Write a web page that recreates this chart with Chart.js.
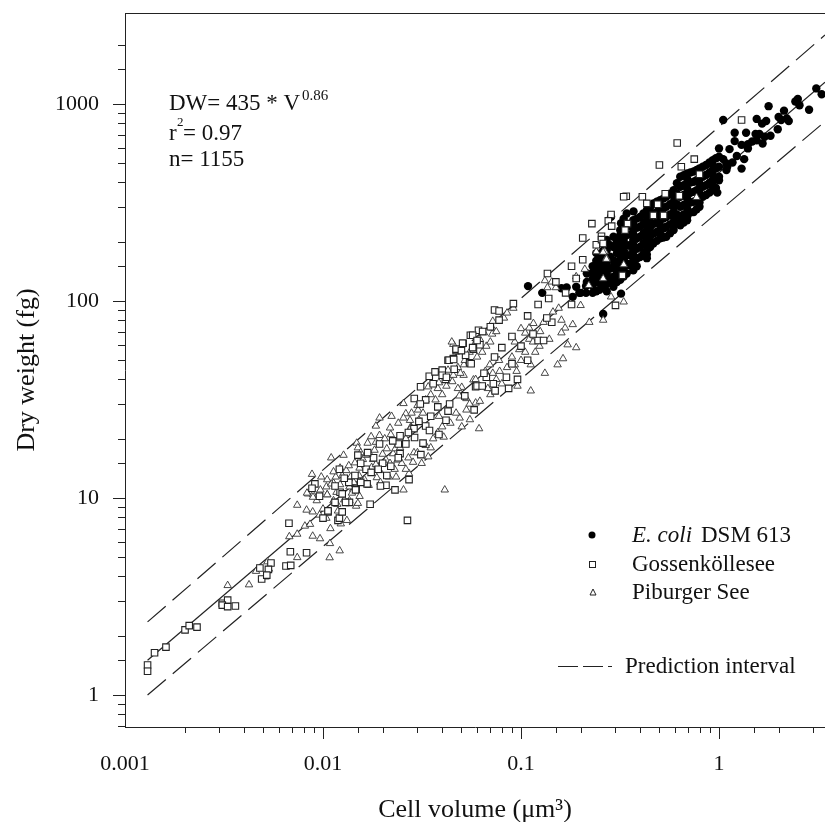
<!DOCTYPE html>
<html>
<head>
<meta charset="utf-8">
<title>Dry weight vs cell volume</title>
<script src="https://cdn.jsdelivr.net/npm/chart.js@4"></script>
<style>
    html, body { margin: 0; padding: 0; background: #fff; }
    canvas { display: block; }
</style>
</head>
<body>
<canvas id="scatterChart" width="825" height="822"></canvas>
<script>
// Axis tick labels
var xTickLabels = [0.001, 0.01, 0.1, 1];
var yTickLabels = [1, 10, 100, 1000];

// Regression line and prediction interval, [volume, dry weight]
var fitLine = [[0.0013, 1.5], [3.43, 1290]];
var upperLine = [[0.0013, 2.35], [3.43, 2240]];
var lowerLine = [[0.0013, 1.0], [3.43, 815]];

// E. coli DSM 613, [volume, dry weight]
var ecoliPoints = [
    [0.1085,119],[0.128,110],[0.16,116],[0.17,117],[0.19,118],[0.2,110],[0.1825,105],[0.32,109],[0.26,86],
    [0.37,285],[0.285,268],[0.32,248],[1.05,829],[1.78,975],[1.55,840],[1.73,820],[1.65,795],[2.5,1060],
    [2.55,985],[2.43,1030],[2.85,935],[3.1,1200],[3.3,1120],[2.13,925],[2.0,860],[2.06,830],[2.25,820],
    [2.2,845],[1.98,745],[1.82,690],[1.2,715],[1.37,715],[1.53,705],[1.6,705],[1.7,682],[1.2,648],[1.3,620],
    [1.4,595],[1.47,645],[1.55,655],[1.66,630],[1.4,625],[1.0,595],[1.13,590],[1.3,470],[1.23,545],[1.34,525],
    [1.17,505],[1.1,480],[1.05,525],[1.0,410],[0.98,355],[0.92,390],
    [0.197,110],[0.213,110],[0.213,119],[0.23,110],[0.23,119],[0.23,129],[0.23,139],[0.23,150],
    [0.249,114],[0.249,124],[0.249,134],[0.249,144],[0.249,156],[0.249,169],
    [0.25,167],[0.25,149],[0.271,204],[0.271,181],[0.271,155],[0.271,138],[0.271,122],[0.271,112],
    [0.293,212],[0.293,188],[0.293,161],[0.293,149],[0.293,133],[0.293,118],
    [0.317,229],[0.317,204],[0.317,181],[0.317,161],[0.317,143],[0.317,128],
    [0.342,278],[0.342,247],[0.342,216],[0.342,192],[0.342,171],[0.342,155],[0.342,138],
    [0.369,257],[0.369,233],[0.369,204],[0.369,181],[0.369,161],[0.369,143],
    [0.399,267],[0.399,238],[0.399,212],[0.399,188],[0.399,167],
    [0.432,289],[0.432,257],[0.432,229],[0.432,204],[0.432,181],[0.432,165],
    [0.466,313],[0.466,278],[0.466,247],[0.466,220],[0.466,196],
    [0.504,325],[0.504,289],[0.504,257],[0.504,229],[0.504,208],
    [0.542,338],[0.542,301],[0.542,267],[0.542,238],[0.542,212],
    [0.59,365],[0.59,319],[0.59,283],[0.59,252],[0.59,229],
    [0.637,427],[0.637,380],[0.637,338],[0.637,301],[0.637,267],[0.637,242],
    [0.69,444],[0.69,395],[0.69,351],[0.69,313],[0.69,278],[0.69,257],
    [0.745,454],[0.745,403],[0.745,358],[0.745,319],[0.745,283],
    [0.797,471],[0.797,419],[0.797,372],[0.797,331],[0.797,301],
    [0.86,490],[0.86,436],[0.86,387],[0.86,345],
    [0.93,519],[0.93,462],[0.93,411],[0.93,365],
    [1.0,540],[1.0,480],[1.0,427],[1.09,499],[1.09,462],
    [0.215,125],[0.215,138],[0.24,112],[0.24,125],[0.24,135],[0.24,147],[0.24,160],[0.24,175],
    [0.26,120],[0.26,130],[0.26,140],[0.26,150],[0.26,165],[0.26,180],[0.26,195],
    [0.282,192],[0.282,168],[0.282,146],[0.282,127],[0.305,200],[0.305,175],[0.305,155],[0.305,141],[0.305,125],
    [0.33,262],[0.33,232],[0.33,204],[0.33,181],[0.33,163],[0.33,146],[0.33,133],
    [0.355,240],[0.355,218],[0.355,192],[0.355,171],[0.355,152],
    [0.384,262],[0.384,235],[0.384,208],[0.384,184],[0.384,164],[0.384,150],
    [0.415,278],[0.415,247],[0.415,220],[0.415,196],[0.415,174],
    [0.449,300],[0.449,267],[0.449,238],[0.449,212],[0.449,188],
    [0.485,319],[0.485,283],[0.485,252],[0.485,224],[0.485,202],
    [0.523,331],[0.523,295],[0.523,262],[0.523,233],[0.523,210],
    [0.566,351],[0.566,310],[0.566,275],[0.566,245],[0.566,221],
    [0.613,396],[0.613,350],[0.613,310],[0.613,275],[0.613,248],
    [0.663,435],[0.663,387],[0.663,345],[0.663,307],[0.663,275],[0.663,250],
    [0.717,449],[0.717,399],[0.717,355],[0.717,316],[0.717,281],
    [0.771,462],[0.771,411],[0.771,365],[0.771,325],[0.771,292],
    [0.828,480],[0.828,427],[0.828,380],[0.828,338],
    [0.895,505],[0.895,449],[0.895,399],[0.895,355],
    [0.965,530],[0.965,470],[0.965,419],[0.965,375],
    [0.271,192],[0.271,168],[0.271,146],[0.271,130],[0.317,216],[0.317,192],[0.317,171],[0.317,152],[0.317,135],
    [0.369,245],[0.369,218],[0.369,192],[0.369,171],[0.369,152],[0.432,272],[0.432,242],[0.432,216],[0.432,192],[0.432,172],
    [0.504,306],[0.504,272],[0.504,242],[0.504,218],[0.59,340],[0.59,300],[0.59,267],[0.59,240],
    [0.69,418],[0.69,372],[0.69,331],[0.69,295],[0.69,267],[0.797,445],[0.797,395],[0.797,351],[0.797,316],
    [0.93,490],[0.93,436],[0.93,387]
];

// Gossenkollesee, [volume, dry weight]
var gossenPoints = [
    [0.0013,1.42],[0.0013,1.32],[0.00141,1.64],[0.00161,1.75],[0.00201,2.14],[0.00211,2.25],[0.00231,2.21],
    [0.0031,2.92],[0.0033,3.03],[0.0031,2.86],[0.0033,2.81],[0.00361,2.83],[0.0048,4.41],[0.00546,4.68],
    [0.0053,4.34],[0.0049,3.88],[0.0052,4.06],[0.00673,7.44],[0.00684,5.34],[0.00826,5.27],[0.0065,4.52],
    [0.00687,4.55],[0.0091,11.8],[0.0096,10.2],[0.0106,8.5],[0.01,7.9],[0.0119,7.7],[0.0136,9.5],[0.0147,11.1],
    [0.0122,10.7],[0.0173,9.3],[0.0272,12.4],[0.0231,11],[0.0208,11.6],[0.0167,11.8],[0.0121,14],[0.0088,11.2],
    [0.0146,11],[0.0121,7.9],[0.0106,8.6],[0.0267,7.7],[0.0311,36.7],[0.0289,32],[0.033,31.5],[0.0344,41.5],
    [0.0368,43.7],[0.04,44.6],[0.0428,50],[0.0455,51],[0.047,56],[0.051,61],[0.0555,67],[0.0575,57],[0.0525,53],
    [0.055,48.5],[0.0288,22.5],[0.033,23.2],[0.029,20.3],[0.032,19],[0.0262,18.8],[0.0245,20.7],[0.0312,16.6],
    [0.024,18.8],[0.0385,21],[0.0345,22],[0.0436,30],[0.0428,27.6],[0.0418,24.8],[0.059,36.7],[0.0245,16.8],
    [0.0193,18.8],[0.0125,10.5],[0.0135,12],[0.0145,13],[0.0155,12],[0.0165,14],[0.0175,13.5],[0.0155,15],
    [0.018,16],[0.02,15],[0.022,14.5],[0.024,16],[0.0195,11.5],[0.021,13],[0.013,9.5],[0.0115,9.5],[0.0125,8.5],
    [0.0735,90],[0.0775,89],[0.0775,80],[0.0915,97],[0.108,84],[0.122,96],[0.138,103],[0.143,78],[0.18,150],
    [0.136,138],[0.19,130],[0.205,162],[0.205,209],[0.228,247],[0.255,213],[0.285,275],[0.24,193],[0.168,110],
    [0.18,96],[0.3,95],[0.325,135],[0.345,247],[0.061,71],[0.057,67],[0.0507,61],[0.062,60],[0.047,57],[0.057,58],
    [0.0433,50],[0.0457,50.5],[0.056,48],[0.122,63],[0.13,63],[0.108,50],[0.0735,52],[0.0668,41],[0.0844,41],
    [0.06,37],[0.0725,38],[0.0637,37],[0.0866,36],[0.096,40],[0.074,35],[0.0415,40],[0.04,42],
    [1.3,829],[0.615,634],[0.5,490],[0.645,480],[0.75,525],[0.797,440],[0.34,340],[0.33,338],[0.41,338],
    [0.432,313],[0.49,310],[0.535,350],[0.63,342],[0.466,272],[0.525,272],[0.276,255],[0.287,240],[0.335,229],
    [0.255,205],[0.26,196],
    [0.0115,11.5],[0.0128,12.6],[0.015,16.5],[0.0168,17],[0.019,14],[0.0225,19.5],[0.027,21.5],[0.0305,24.5],
    [0.035,26],[0.038,29],[0.031,30],[0.036,38],[0.042,41],[0.046,45],[0.05,56],[0.06,63],[0.064,70],[0.07,74],
    [0.052,33],[0.058,28],[0.065,43],[0.08,58],[0.09,66],[0.1,59],[0.115,68],[0.09,48],[0.135,82],[0.15,125]
];

// Piburger See, [volume, dry weight]
var piburgerPoints = [
    [0.0033,3.6],[0.00423,3.63],[0.00459,4.25],[0.00524,4.75],[0.00533,4.36],[0.00513,3.98],[0.00676,6.37],
    [0.00741,6.56],[0.00741,4.99],[0.00741,9.2],[0.00826,8.69],[0.00887,8.51],[0.0081,7.21],[0.0086,7.36],
    [0.00887,6.41],[0.00966,6.22],[0.01084,5.88],[0.0108,4.98],[0.01214,5.4],[0.0084,10.5],
    [0.0104,11.4],[0.0096,10.7],[0.0113,11.9],[0.0089,10.4],[0.0105,10.4],[0.0117,10.7],[0.0093,9.7],[0.0113,9.7],
    [0.0136,9.7],[0.01,8.8],[0.0119,8.6],[0.0096,8.2],[0.0132,7.7],[0.0104,7.9],[0.0109,7],[0.0123,7.4],
    [0.0142,11.1],[0.0147,9.1],
    [0.0302,28],[0.0255,30.2],[0.033,31.5],[0.04,33.5],[0.038,36],[0.034,36.7],[0.0428,44.6],[0.0385,38.5],
    [0.0455,42],[0.0193,25.5],[0.0222,26],[0.0185,23.2],[0.0218,22.7],[0.0262,26.8],[0.0275,24.8],[0.0305,24.9],
    [0.0278,23],[0.0193,20.8],[0.0148,19],[0.015,18],[0.0168,19],[0.0185,19.2],[0.011,16],[0.0127,16.5],[0.0088,13.2],
    [0.0083,10.6],[0.0089,10.1],[0.0097,11],[0.0105,10.4],[0.011,11.8],[0.0116,12.8],[0.0125,13],[0.0122,11.7],
    [0.0138,12.8],[0.0145,15.1],[0.0153,14.2],[0.0159,15.7],[0.0172,16.8],[0.0179,15.7],[0.0182,17.5],[0.0131,13.8],
    [0.0136,11.4],[0.0153,10.2],[0.015,9.4],[0.0187,12.7],[0.0193,13.8],[0.0208,15.6],[0.0226,16.8],[0.023,14],
    [0.0234,12.8],[0.0215,12.8],[0.0272,13.3],[0.0255,11],[0.0412,11],[0.034,16.2],[0.035,18],[0.0262,14],
    [0.0243,20.4],[0.0262,20],[0.0238,15.6],[0.0278,22.7],[0.0288,17],[0.0407,20.4],[0.0502,23],[0.0552,25],
    [0.0614,22.5],[0.053,28],[0.059,30.4],[0.0575,39.8],[0.0502,36.5],[0.0488,33],[0.053,32],[0.049,25.5],
    [0.059,40],[0.0385,26],[0.0513,42],[0.0455,60.3],
    [0.0447,62],[0.072,79],[0.0715,73],[0.0715,68],[0.0915,92],[0.1,72.5],[0.11,73],[0.1155,77],[0.105,68.8],
    [0.11,64],[0.093,62],[0.098,56.7],[0.1,50],[0.093,47.5],[0.112,47.5],[0.118,55],[0.124,59],[0.139,64],[0.16,80],
    [0.167,73],[0.16,69],[0.1825,76],[0.2213,78],[0.172,60],[0.19,58],[0.163,51],[0.153,47.5],[0.132,43],[0.112,35],
    [0.096,37],[0.07,33.5],[0.0696,47.5],[0.0515,47.5],[0.0494,43],[0.0637,55],[0.0668,59],[0.048,36],[0.0775,50],
    [0.155,92],[0.132,127],[0.143,125],[0.136,117],[0.15,117],[0.19,133],[0.2,95],[0.285,105],[0.33,99],[0.26,80],
    [0.24,178],[0.265,178],[0.27,165],[0.21,145],[0.22,120],[0.26,130],[0.77,336],[0.26,177],[0.27,163],[0.33,153],
    [0.0118,9.3],[0.0128,9.8],[0.014,10.6],[0.0143,12],[0.0152,13],[0.0162,12.4],[0.017,11.6],[0.0176,14.3],
    [0.0185,14.8],[0.0195,12],[0.02,16.7],[0.021,17.8],[0.0218,15],[0.0232,17.8],[0.0245,18],[0.025,15],[0.027,16],
    [0.0285,15.2],[0.03,17],[0.0315,15],[0.033,18.5],[0.036,20],[0.038,21.5],[0.04,23],[0.044,24],[0.047,27],
    [0.0165,16.5],[0.0155,17],[0.0135,14.6],[0.0122,14.2],[0.0113,13.6],[0.0105,12.4],[0.0098,12.8],[0.0175,20.5],
    [0.0205,20],[0.022,21],[0.024,24],[0.0255,25.5],[0.028,27],[0.03,29.5],[0.032,27],[0.035,33.5],[0.037,31.5],
    [0.042,37],[0.045,39],[0.048,46],[0.052,50],[0.055,55],[0.058,60],[0.062,64],[0.065,69],[0.06,52],[0.07,62],
    [0.075,70],[0.082,82],[0.085,87],[0.066,44],[0.072,43],[0.078,44],[0.085,46],[0.09,52],[0.095,44],[0.105,55],
    [0.115,62],[0.125,70],[0.13,78],[0.145,88],[0.08,38],[0.055,30],[0.062,31],[0.068,36],[0.075,40]
];

function toXY(pairs) {
    return pairs.map(function (p) { return { x: p[0], y: p[1] }; });
}

// Ticks, top border, legend and the equation block
var decorPlugin = {
    id: 'decor',
    afterDraw: function (chart) {
        var ctx = chart.ctx;
        var area = chart.chartArea;
        ctx.save();
        ctx.strokeStyle = '#222';
        ctx.lineWidth = 1;

        ctx.beginPath();
        ctx.moveTo(area.left, area.top + 0.5);
        ctx.lineTo(area.right, area.top + 0.5);

        chart.scales.x.ticks.forEach(function (t) {
            if (t.value === chart.scales.x.min || t.value === chart.scales.x.max) return;
            var px = Math.round(chart.scales.x.getPixelForValue(t.value)) + 0.5;
            ctx.moveTo(px, area.bottom);
            ctx.lineTo(px, area.bottom + (xTickLabels.indexOf(t.value) >= 0 ? 12 : 6));
        });
        chart.scales.y.ticks.forEach(function (t) {
            if (t.value === chart.scales.y.min || t.value === chart.scales.y.max) return;
            var py = Math.round(chart.scales.y.getPixelForValue(t.value)) + 0.5;
            ctx.moveTo(area.left, py);
            ctx.lineTo(area.left - (yTickLabels.indexOf(t.value) >= 0 ? 12 : 7), py);
        });
        ctx.stroke();

        ctx.fillStyle = '#111';
        ctx.textBaseline = 'alphabetic';
        ctx.font = '23px "Liberation Serif"';
        ctx.fillText('DW= 435 * V', 169, 110);
        ctx.fillText('r', 169, 140);
        ctx.fillText('= 0.97', 183, 140);
        ctx.fillText('n= 1155', 169, 166);
        ctx.font = '15px "Liberation Serif"';
        ctx.fillText('0.86', 302, 100);
        ctx.font = '13px "Liberation Serif"';
        ctx.fillText('2', 177, 126);

        // Legend
        ctx.font = 'italic 23px "Liberation Serif"';
        ctx.fillText('E. coli', 632, 542);
        ctx.font = '23px "Liberation Serif"';
        ctx.fillText('DSM 613', 701, 542);
        ctx.fillText('Gossenköllesee', 632, 571);
        ctx.fillText('Piburger See', 632, 599);
        ctx.fillText('Prediction interval', 625, 673);

        ctx.fillStyle = '#000';
        ctx.beginPath();
        ctx.arc(592, 535, 3.5, 0, Math.PI * 2);
        ctx.fill();
        ctx.lineWidth = 1;
        ctx.strokeStyle = '#222';
        ctx.strokeRect(589.5, 561.5, 6, 6);
        ctx.beginPath();
        ctx.moveTo(593, 589);
        ctx.lineTo(596, 595);
        ctx.lineTo(590, 595);
        ctx.closePath();
        ctx.stroke();

        ctx.beginPath();
        ctx.moveTo(558, 666.5);
        ctx.lineTo(578, 666.5);
        ctx.moveTo(583, 666.5);
        ctx.lineTo(603, 666.5);
        ctx.moveTo(608, 666.5);
        ctx.lineTo(612, 666.5);
        ctx.stroke();
        ctx.restore();
    }
};

var ctxScatter = document.getElementById('scatterChart').getContext('2d');
var scatterChart = new Chart(ctxScatter, {
    type: 'scatter',
    data: {
        datasets: [
            {
                label: 'Gossenköllesee',
                data: toXY(gossenPoints),
                pointStyle: 'rect',
                pointRadius: 4.6,
                backgroundColor: '#fff',
                borderColor: '#222',
                borderWidth: 1.1,
                order: 1
            },
            {
                label: 'Piburger See',
                data: toXY(piburgerPoints),
                pointStyle: 'triangle',
                pointRadius: 4.3,
                backgroundColor: '#fff',
                borderColor: '#333',
                borderWidth: 0.9,
                order: 2
            },
            {
                label: 'E. coli DSM 613',
                data: toXY(ecoliPoints),
                pointStyle: 'circle',
                pointRadius: 4.2,
                backgroundColor: '#000',
                borderColor: '#000',
                borderWidth: 0,
                order: 3
            },
            {
                label: 'Fit',
                data: toXY(fitLine),
                showLine: true,
                pointRadius: 0,
                borderColor: '#222',
                borderWidth: 1.2,
                order: 4
            },
            {
                label: 'Prediction interval (upper)',
                data: toXY(upperLine),
                showLine: true,
                pointRadius: 0,
                borderColor: '#222',
                borderWidth: 1.2,
                borderDash: [24, 9],
                order: 4
            },
            {
                label: 'Prediction interval (lower)',
                data: toXY(lowerLine),
                showLine: true,
                pointRadius: 0,
                borderColor: '#222',
                borderWidth: 1.2,
                borderDash: [24, 9],
                order: 4
            }
        ]
    },
    options: {
        responsive: false,
        animation: false,
        layout: { autoPadding: false, padding: { top: 13, right: 0, left: 0, bottom: 0 } },
        plugins: {
            legend: { display: false },
            tooltip: { enabled: false }
        },
        scales: {
            x: {
                type: 'logarithmic',
                min: 0.001,
                max: 3.43,
                afterFit: function (scale) {
                    scale.height = 95;
                    scale.paddingLeft = 0;
                    scale.paddingRight = 0;
                },
                grid: { display: false },
                border: { display: true, color: '#222', width: 1 },
                title: {
                    display: true,
                    text: 'Cell volume (μm³)',
                    color: '#111',
                    font: { family: '"Liberation Serif"', size: 26 },
                    padding: { top: 14, bottom: -4 }
                },
                ticks: {
                    autoSkip: false,
                    maxRotation: 0,
                    padding: 16,
                    color: '#111',
                    font: { family: '"Liberation Serif"', size: 22 },
                    callback: function (value) {
                        return xTickLabels.indexOf(value) >= 0 ? String(value) : '';
                    }
                }
            },
            y: {
                type: 'logarithmic',
                min: 0.688,
                max: 2897,
                afterFit: function (scale) {
                    scale.width = 125;
                    scale.paddingTop = 0;
                    scale.paddingBottom = 0;
                },
                grid: { display: false },
                border: { display: true, color: '#222', width: 1 },
                title: {
                    display: true,
                    text: 'Dry weight (fg)',
                    color: '#111',
                    font: { family: '"Liberation Serif"', size: 26 },
                    padding: { top: 12, bottom: 0 }
                },
                ticks: {
                    autoSkip: false,
                    padding: 18,
                    color: '#111',
                    font: { family: '"Liberation Serif"', size: 22 },
                    callback: function (value) {
                        return yTickLabels.indexOf(value) >= 0 ? String(value) : '';
                    }
                }
            }
        }
    },
    plugins: [decorPlugin]
});
</script>
</body>
</html>
